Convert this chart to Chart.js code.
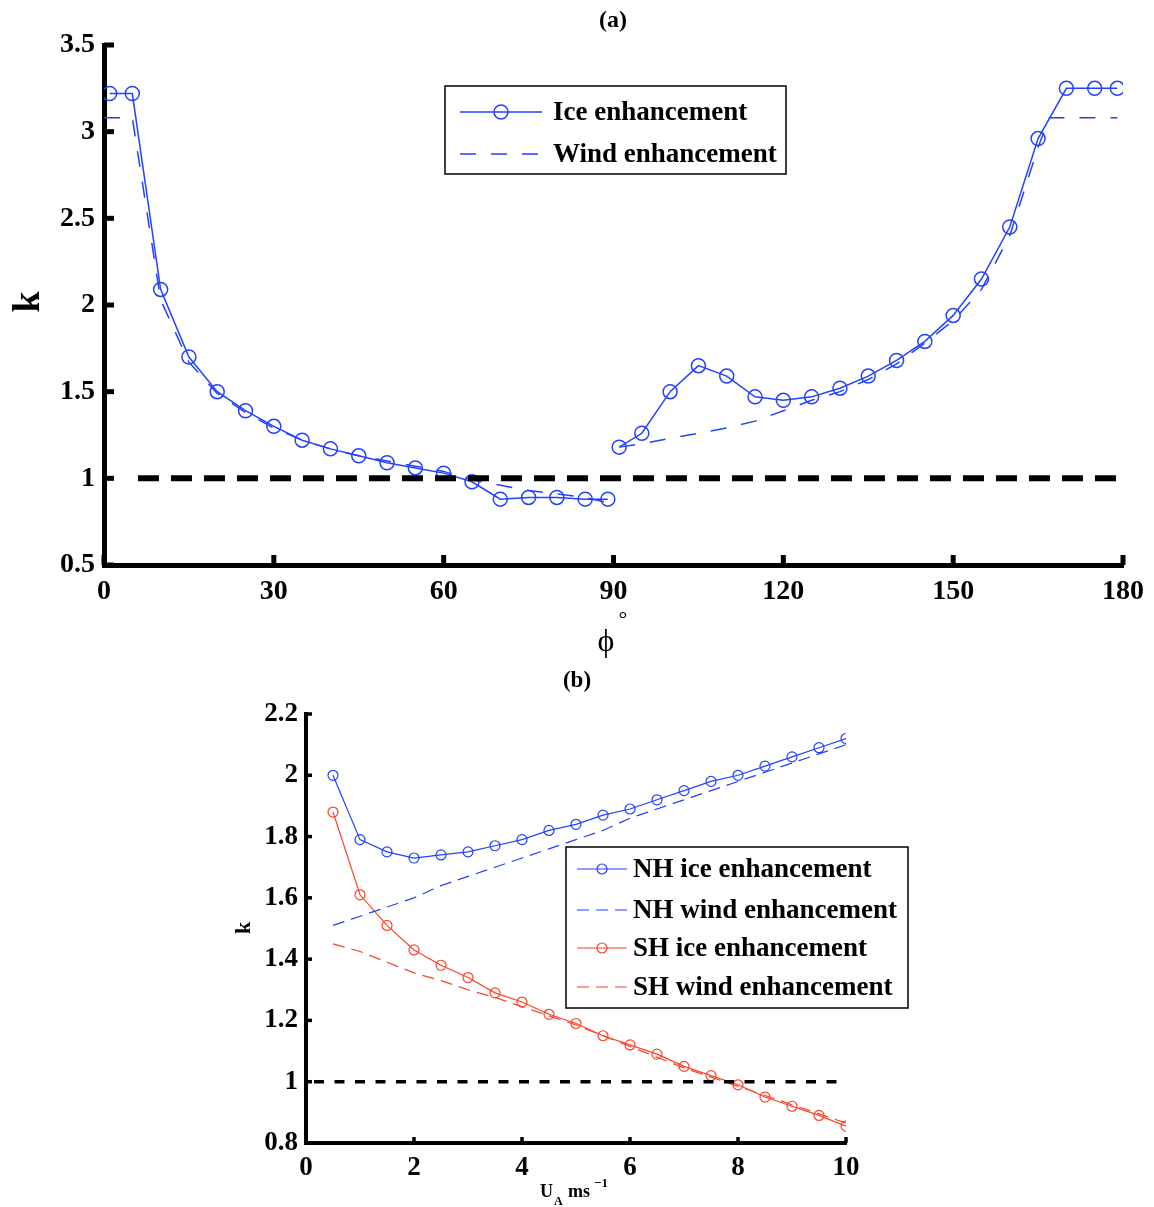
<!DOCTYPE html>
<html>
<head>
<meta charset="utf-8">
<script src="https://cdn.jsdelivr.net/npm/chart.js@4.4.0/dist/chart.umd.min.js"></script>
<style>
  html, body { margin: 0; padding: 0; background: #fff; }
  #wrap { position: relative; width: 1154px; height: 1207px; }
  canvas { position: absolute; left: 0; }
  #chartA { top: 0; width: 1154px; height: 660px; }
  #chartB { top: 660px; width: 1154px; height: 547px; }
</style>
</head>
<body>
<div id="wrap">
  <canvas id="chartA" width="1154" height="660"></canvas>
  <canvas id="chartB" width="1154" height="547"></canvas>
</div>
<script>
// ---- (a) k against phi ----
const phiIceLow = [1, 5, 10, 15, 20, 25, 30, 35, 40, 45, 50, 55, 60, 65, 70, 75, 80, 85, 89];
const kIceLow = [3.22, 3.22, 2.09, 1.70, 1.50, 1.39, 1.30, 1.22, 1.17, 1.13, 1.09, 1.06, 1.03, 0.98, 0.88, 0.89, 0.89, 0.88, 0.88];
const phiIceHigh = [91, 95, 100, 105, 110, 115, 120, 125, 130, 135, 140, 145, 150, 155, 160, 165, 170, 175, 179];
const kIceHigh = [1.18, 1.26, 1.50, 1.65, 1.59, 1.47, 1.45, 1.47, 1.52, 1.59, 1.68, 1.79, 1.94, 2.15, 2.45, 2.96, 3.25, 3.25, 3.25];

const phiWindLow = [0, 5, 10, 15, 20, 25, 30, 35, 40, 45, 50, 55, 60, 65, 70, 75, 80, 85, 89];
const kWindLow = [3.08, 3.08, 2.03, 1.67, 1.49, 1.38, 1.29, 1.22, 1.17, 1.13, 1.10, 1.07, 1.04, 0.99, 0.96, 0.93, 0.91, 0.89, 0.86];
const phiWindHigh = [91, 95, 100, 105, 110, 115, 120, 125, 130, 135, 140, 145, 150, 155, 160, 165, 167, 179];
const kWindHigh = [1.18, 1.20, 1.23, 1.26, 1.29, 1.33, 1.39, 1.45, 1.50, 1.57, 1.66, 1.78, 1.91, 2.09, 2.40, 2.91, 3.08, 3.08];

const phiRef = [6, 180];
const kRefA = [1, 1];
const phiTicks = [0, 30, 60, 90, 120, 150, 180];
const kTicksA = [0.5, 1, 1.5, 2, 2.5, 3, 3.5];

// ---- (b) k against wind speed ----
const windSpeed = [0.5, 1, 1.5, 2, 2.5, 3, 3.5, 4, 4.5, 5, 5.5, 6, 6.5, 7, 7.5, 8, 8.5, 9, 9.5, 10];
const kIceNH = [2.00, 1.79, 1.75, 1.73, 1.74, 1.75, 1.77, 1.79, 1.82, 1.84, 1.87, 1.89, 1.92, 1.95, 1.98, 2.00, 2.03, 2.06, 2.09, 2.12];
const kWindNH = [1.51, 1.54, 1.57, 1.60, 1.64, 1.67, 1.70, 1.73, 1.76, 1.79, 1.82, 1.86, 1.89, 1.92, 1.95, 1.98, 2.01, 2.04, 2.07, 2.10];
const kIceSH = [1.88, 1.61, 1.51, 1.43, 1.38, 1.34, 1.29, 1.26, 1.22, 1.19, 1.15, 1.12, 1.09, 1.05, 1.02, 0.99, 0.95, 0.92, 0.89, 0.855];
const kWindSH = [1.45, 1.425, 1.39, 1.355, 1.33, 1.30, 1.275, 1.245, 1.215, 1.185, 1.15, 1.115, 1.08, 1.045, 1.015, 0.985, 0.955, 0.925, 0.895, 0.865];

const speedRef = [0, 10];
const kRefB = [1, 1];
const speedTicks = [0, 2, 4, 6, 8, 10];
const kTicksB = [0.8, 1, 1.2, 1.4, 1.6, 1.8, 2, 2.2];

const BLUE = 'rgb(35, 65, 255)';
const RED = 'rgb(255, 65, 40)';
const SERIF = '"Liberation Serif", "Times New Roman", serif';

function pts(xs, ys) {
  return xs.map((x, i) => ({ x, y: ys[i] }));
}
// two pieces with a break at 90 degrees
function split(xa, ya, xb, yb) {
  return pts(xa, ya).concat([{ x: 90, y: null }], pts(xb, yb));
}

// inward ticks, titles and the boxed legend
const decor = {
  id: 'decor',
  afterDraw(chart, args, opts) {
    const ctx = chart.ctx;
    const xs = chart.scales.x, ys = chart.scales.y;
    const area = chart.chartArea;
    ctx.save();
    ctx.strokeStyle = '#000';
    ctx.lineWidth = opts.tickWidth;
    ctx.lineCap = 'butt';
    xs.ticks.forEach(t => {
      const px = xs.getPixelForValue(t.value);
      ctx.beginPath();
      ctx.moveTo(px, area.bottom);
      ctx.lineTo(px, area.bottom - opts.tickLen);
      ctx.stroke();
    });
    ys.ticks.forEach(t => {
      const py = ys.getPixelForValue(t.value);
      ctx.beginPath();
      ctx.moveTo(area.left, py);
      ctx.lineTo(area.left + opts.tickLen, py);
      ctx.stroke();
    });

    // texts
    ctx.fillStyle = '#000';
    opts.texts.forEach(t => {
      ctx.save();
      ctx.font = t.font;
      ctx.textAlign = t.align || 'center';
      ctx.textBaseline = t.baseline || 'middle';
      ctx.translate(t.x, t.y);
      if (t.rotate) ctx.rotate(t.rotate);
      ctx.fillText(t.text, 0, 0);
      ctx.restore();
    });

    // legend
    const lg = opts.legend;
    ctx.fillStyle = '#fff';
    ctx.fillRect(lg.box[0], lg.box[1], lg.box[2], lg.box[3]);
    ctx.strokeStyle = '#000';
    ctx.lineWidth = lg.boxWidth;
    ctx.strokeRect(lg.box[0], lg.box[1], lg.box[2], lg.box[3]);
    lg.items.forEach((idx, i) => {
      const ds = chart.data.datasets[idx];
      const y = lg.rows[i];
      ctx.strokeStyle = ds.borderColor;
      ctx.lineWidth = ds.borderWidth;
      ctx.setLineDash(ds.borderDash || []);
      ctx.beginPath();
      ctx.moveTo(lg.lineX[0], y);
      ctx.lineTo(lg.lineX[1], y);
      ctx.stroke();
      ctx.setLineDash([]);
      if (ds.pointRadius > 0) {
        ctx.lineWidth = ds.pointBorderWidth;
        ctx.beginPath();
        ctx.arc((lg.lineX[0] + lg.lineX[1]) / 2, y, ds.pointRadius, 0, Math.PI * 2);
        ctx.stroke();
      }
      ctx.fillStyle = '#000';
      ctx.font = lg.font;
      ctx.textAlign = 'left';
      ctx.textBaseline = 'middle';
      ctx.fillText(ds.label, lg.textX, y + 1);
    });
    ctx.restore();
  }
};

function axis(min, max, ticks, font, pad, bw, fit) {
  return {
    type: 'linear',
    min, max,
    afterBuildTicks: s => { s.ticks = ticks.map(v => ({ value: v })); },
    afterFit: fit,
    border: { display: true, color: '#000', width: bw },
    grid: { display: true, drawOnChartArea: false, drawTicks: false },
    ticks: { color: '#000', font, padding: pad, callback: v => String(v), maxRotation: 0, autoSkip: false }
  };
}

const fontA = { family: SERIF, size: 28, weight: 'bold' };
const fontB = { family: SERIF, size: 27, weight: 'bold' };

new Chart(document.getElementById('chartA'), {
  type: 'line',
  data: {
    datasets: [
      { label: 'k = 1', data: pts(phiRef, kRefA), borderColor: '#000', borderWidth: 6,
        borderDash: [21, 12], pointRadius: 0 },
      { label: 'Ice enhancement', data: split(phiIceLow, kIceLow, phiIceHigh, kIceHigh),
        borderColor: BLUE, borderWidth: 1.5, pointRadius: 7, pointBorderColor: BLUE,
        pointBackgroundColor: 'rgba(0,0,0,0)', pointBorderWidth: 1.5, tension: 0 },
      { label: 'Wind enhancement', data: split(phiWindLow, kWindLow, phiWindHigh, kWindHigh),
        borderColor: BLUE, borderWidth: 1.5, borderDash: [16, 15], pointRadius: 0, tension: 0 }
    ]
  },
  options: {
    responsive: false,
    animation: false,
    layout: { padding: { top: 45, right: 31, left: 0, bottom: 0 } },
    plugins: {
      legend: { display: false },
      tooltip: { enabled: false },
      decor: {
        tickLen: 10, tickWidth: 5,
        texts: [
          { text: '(a)', x: 613, y: 21, font: 'bold 24px ' + SERIF },
          { text: 'k', x: 29, y: 302, font: 'bold 38px ' + SERIF, rotate: -Math.PI / 2 },
          { text: '\u03D5', x: 606, y: 643, font: '32px ' + SERIF },
          { text: '\u00B0', x: 623, y: 620, font: '22px ' + SERIF }
        ],
        legend: {
          box: [445, 86, 341, 88], boxWidth: 1.5,
          rows: [112, 154], lineX: [460, 542], textX: 553,
          font: 'bold 27px ' + SERIF, items: [1, 2]
        }
      }
    },
    scales: {
      x: axis(0, 180, phiTicks, fontA, 10, 5, s => { s.height = 95; }),
      y: axis(0.5, 3.5, kTicksA, fontA, 9, 5, s => { s.width = 104; })
    }
  },
  plugins: [decor]
});

new Chart(document.getElementById('chartB'), {
  type: 'line',
  data: {
    datasets: [
      { label: 'k = 1', data: pts(speedRef, kRefB), borderColor: '#000', borderWidth: 3.5,
        borderDash: [10, 10.5], borderDashOffset: 12.5, pointRadius: 0 },
      { label: 'NH ice enhancement', data: pts(windSpeed, kIceNH), borderColor: BLUE, borderWidth: 1.2,
        pointRadius: 5, pointBorderColor: BLUE, pointBackgroundColor: 'rgba(0,0,0,0)', pointBorderWidth: 1.2, tension: 0 },
      { label: 'NH wind enhancement', data: pts(windSpeed, kWindNH), borderColor: BLUE, borderWidth: 1.2,
        borderDash: [12, 7], pointRadius: 0, tension: 0 },
      { label: 'SH ice enhancement', data: pts(windSpeed, kIceSH), borderColor: RED, borderWidth: 1.2,
        pointRadius: 5, pointBorderColor: RED, pointBackgroundColor: 'rgba(0,0,0,0)', pointBorderWidth: 1.2, tension: 0 },
      { label: 'SH wind enhancement', data: pts(windSpeed, kWindSH), borderColor: RED, borderWidth: 1.2,
        borderDash: [12, 7], pointRadius: 0, tension: 0 }
    ]
  },
  options: {
    responsive: false,
    animation: false,
    layout: { padding: { top: 54, right: 308, left: 0, bottom: 0 } },
    plugins: {
      legend: { display: false },
      tooltip: { enabled: false },
      decor: {
        tickLen: 6, tickWidth: 3.5,
        texts: [
          { text: '(b)', x: 577, y: 21, font: 'bold 23px ' + SERIF },
          { text: 'k', x: 244, y: 268, font: 'bold 22px ' + SERIF, rotate: -Math.PI / 2 },
          { text: 'U', x: 540, y: 537, font: 'bold 18px ' + SERIF, align: 'left', baseline: 'alphabetic' },
          { text: 'A', x: 554, y: 545, font: 'bold 12px ' + SERIF, align: 'left', baseline: 'alphabetic' },
          { text: 'ms', x: 568, y: 537, font: 'bold 18px ' + SERIF, align: 'left', baseline: 'alphabetic' },
          { text: '\u22121', x: 594, y: 527, font: 'bold 13px ' + SERIF, align: 'left', baseline: 'alphabetic' }
        ],
        legend: {
          box: [566, 187, 342, 161], boxWidth: 1.5,
          rows: [209, 250, 288, 327], lineX: [577, 627], textX: 633,
          font: 'bold 27px ' + SERIF, items: [1, 2, 3, 4]
        }
      }
    },
    scales: {
      x: axis(0, 10, speedTicks, fontB, 9, 4, s => { s.height = 64; }),
      y: axis(0.8, 2.2, kTicksB, fontB, 8, 4, s => { s.width = 306; })
    }
  },
  plugins: [decor]
});
</script>
</body>
</html>
